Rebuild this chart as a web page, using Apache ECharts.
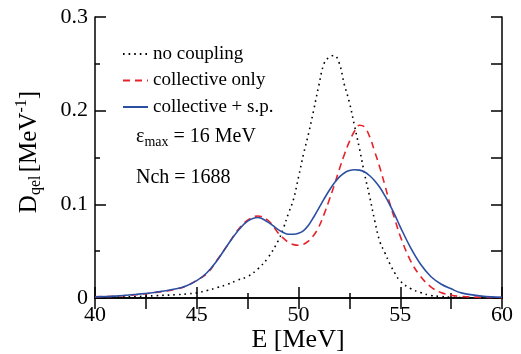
<!DOCTYPE html>
<html>
<head>
<meta charset="utf-8">
<script src="https://cdn.jsdelivr.net/npm/echarts@6/dist/echarts.min.js"></script>
<style>
  html, body { margin: 0; padding: 0; background: #fff; }
  #main { width: 521px; height: 354px; }
</style>
</head>
<body>
<div id="main"></div>
<script>
// energies in MeV (denser sampling around the peaks)
const energy = [40, 41, 42, 43, 44, 44.5, 45, 45.5, 46, 46.5, 47, 47.5, 48, 48.5,
  49, 49.25, 49.5, 49.75, 50, 50.25, 50.5, 50.75, 51, 51.25, 51.5, 51.75,
  52, 52.25, 52.5, 52.75, 53, 53.25, 53.5, 53.75, 54, 54.25, 54.5, 54.75,
  55, 55.5, 56, 56.5, 57, 57.5, 58, 59, 60];

const noCoupling = [0.0005, 0.001, 0.0015, 0.0025, 0.0035, 0.0043, 0.0055, 0.008, 0.011, 0.0145, 0.019, 0.023, 0.031, 0.043,
  0.061, 0.074, 0.09, 0.105, 0.129, 0.154, 0.176, 0.201, 0.227, 0.25, 0.257, 0.259,
  0.251, 0.228, 0.209, 0.184, 0.159, 0.132, 0.108, 0.082, 0.06, 0.048, 0.036, 0.026,
  0.018, 0.0102, 0.0058, 0.0028, 0.0016, 0.0009, 0.0005, 0.0002, 0.0001];

const collectiveOnly = [0.0012, 0.002, 0.0035, 0.006, 0.0095, 0.013, 0.019, 0.026, 0.0405, 0.056, 0.072, 0.083, 0.0875, 0.083,
  0.0695, 0.064, 0.0595, 0.057, 0.0563, 0.0575, 0.061, 0.067, 0.076, 0.089, 0.104, 0.12,
  0.137, 0.153, 0.167, 0.178, 0.1845, 0.1825, 0.172, 0.156, 0.139, 0.12, 0.1, 0.083,
  0.066, 0.04, 0.023, 0.012, 0.0058, 0.003, 0.0017, 0.0007, 0.0004];

const collectiveSp = [0.0012, 0.002, 0.0038, 0.0062, 0.0098, 0.013, 0.0185, 0.027, 0.04, 0.056, 0.071, 0.082, 0.086, 0.081,
  0.073, 0.07, 0.068, 0.068, 0.069, 0.072, 0.078, 0.0865, 0.096, 0.1055, 0.1145, 0.1225,
  0.129, 0.1335, 0.136, 0.137, 0.1365, 0.1345, 0.1305, 0.125, 0.118, 0.109, 0.099, 0.088,
  0.076, 0.054, 0.036, 0.023, 0.015, 0.0098, 0.0055, 0.002, 0.0008];

const seriesNames = ["no coupling", "collective only", "collective + s.p."];

const chart = echarts.init(document.getElementById("main"));
const font = "'Liberation Serif', 'DejaVu Serif', serif";

function pairs(vals) {
  return energy.map((e, i) => [e, vals[i]]);
}

const axisLine = { show: true, lineStyle: { color: "#000", width: 1.5 } };
const tickStyle = { color: "#000", width: 1.5 };

const option = {
  animation: false,
  grid: { left: 95, right: 19, top: 17, bottom: 56 },
  legend: {
    orient: "vertical",
    left: 122,
    top: 44,
    padding: 0,
    itemWidth: 25,
    itemHeight: 14,
    itemGap: 6.5,
    itemStyle: { opacity: 0 },
    textStyle: { fontFamily: font, fontSize: 19, color: "#000", lineHeight: 20 },
    data: seriesNames,
  },
  xAxis: [
    {
      type: "value",
      min: 40,
      max: 60,
      interval: 5,
      axisLine: axisLine,
      axisTick: { inside: true, length: 11, lineStyle: tickStyle },
      minorTick: { show: true, splitNumber: 2, length: 5, lineStyle: tickStyle },
      splitLine: { show: false },
      axisLabel: { fontFamily: font, fontSize: 22, color: "#000", margin: 6 },
    },
    {
      type: "value",
      position: "top",
      min: 40,
      max: 60,
      interval: 2.5,
      axisLine: axisLine,
      axisTick: { inside: true, length: 11, lineStyle: tickStyle },
      splitLine: { show: false },
      axisLabel: { show: false },
    },
  ],
  yAxis: [
    {
      type: "value",
      min: 0,
      max: 0.3,
      interval: 0.1,
      axisLine: axisLine,
      axisTick: { inside: true, length: 11, lineStyle: tickStyle },
      minorTick: { show: true, splitNumber: 2, length: 5, lineStyle: tickStyle },
      splitLine: { show: false },
      axisLabel: {
        fontFamily: font,
        fontSize: 22,
        color: "#000",
        margin: 7,
        formatter: (v) => (v === 0 ? "0" : v.toFixed(1)),
      },
    },
    {
      type: "value",
      position: "right",
      min: 0,
      max: 0.3,
      interval: 0.05,
      axisLine: axisLine,
      axisTick: { inside: true, length: 11, lineStyle: tickStyle },
      splitLine: { show: false },
      axisLabel: { show: false },
    },
  ],
  series: [
    {
      name: seriesNames[0],
      type: "line",
      smooth: 0.4,
      symbol: "none",
      data: pairs(noCoupling),
      lineStyle: { color: "#000", width: 1.6, type: [1.6, 4] },
      itemStyle: { color: "#000" },
    },
    {
      name: seriesNames[1],
      type: "line",
      smooth: 0.4,
      symbol: "none",
      data: pairs(collectiveOnly),
      lineStyle: { color: "#e8222b", width: 1.6, type: [7, 5] },
      itemStyle: { color: "#e8222b" },
    },
    {
      name: seriesNames[2],
      type: "line",
      smooth: 0.4,
      symbol: "none",
      data: pairs(collectiveSp),
      lineStyle: { color: "#2b4fa3", width: 1.6 },
      itemStyle: { color: "#2b4fa3" },
    },
  ],
  graphic: [
    {
      type: "text",
      x: 298,
      y: 340,
      style: {
        text: "E [MeV]",
        fontFamily: font,
        fontSize: 26,
        fill: "#000",
        align: "center",
        verticalAlign: "middle",
      },
    },
    {
      type: "text",
      x: 29,
      y: 152,
      rotation: Math.PI / 2,
      style: {
        text: "{m|D}{s|qel} {m|[MeV}{p|-1}{m|]}",
        align: "center",
        verticalAlign: "middle",
        fill: "#000",
        rich: {
          m: { fontFamily: font, fontSize: 25, lineHeight: 30, fill: "#000" },
          s: { fontFamily: font, fontSize: 16, lineHeight: 16, verticalAlign: "bottom", fill: "#000" },
          p: { fontFamily: font, fontSize: 16, lineHeight: 16, verticalAlign: "top", fill: "#000" },
        },
      },
    },
    {
      type: "text",
      x: 136,
      y: 137,
      style: {
        text: "{m|ε}{s|max}{m| = 16 MeV}",
        verticalAlign: "middle",
        fill: "#000",
        rich: {
          m: { fontFamily: font, fontSize: 20, lineHeight: 24, fill: "#000" },
          s: { fontFamily: font, fontSize: 14, lineHeight: 14, verticalAlign: "bottom", fill: "#000" },
        },
      },
    },
    {
      type: "text",
      x: 136,
      y: 178,
      style: {
        text: "Nch = 1688",
        fontFamily: font,
        fontSize: 20,
        fill: "#000",
        verticalAlign: "middle",
      },
    },
  ],
};

chart.setOption(option);
</script>
</body>
</html>
